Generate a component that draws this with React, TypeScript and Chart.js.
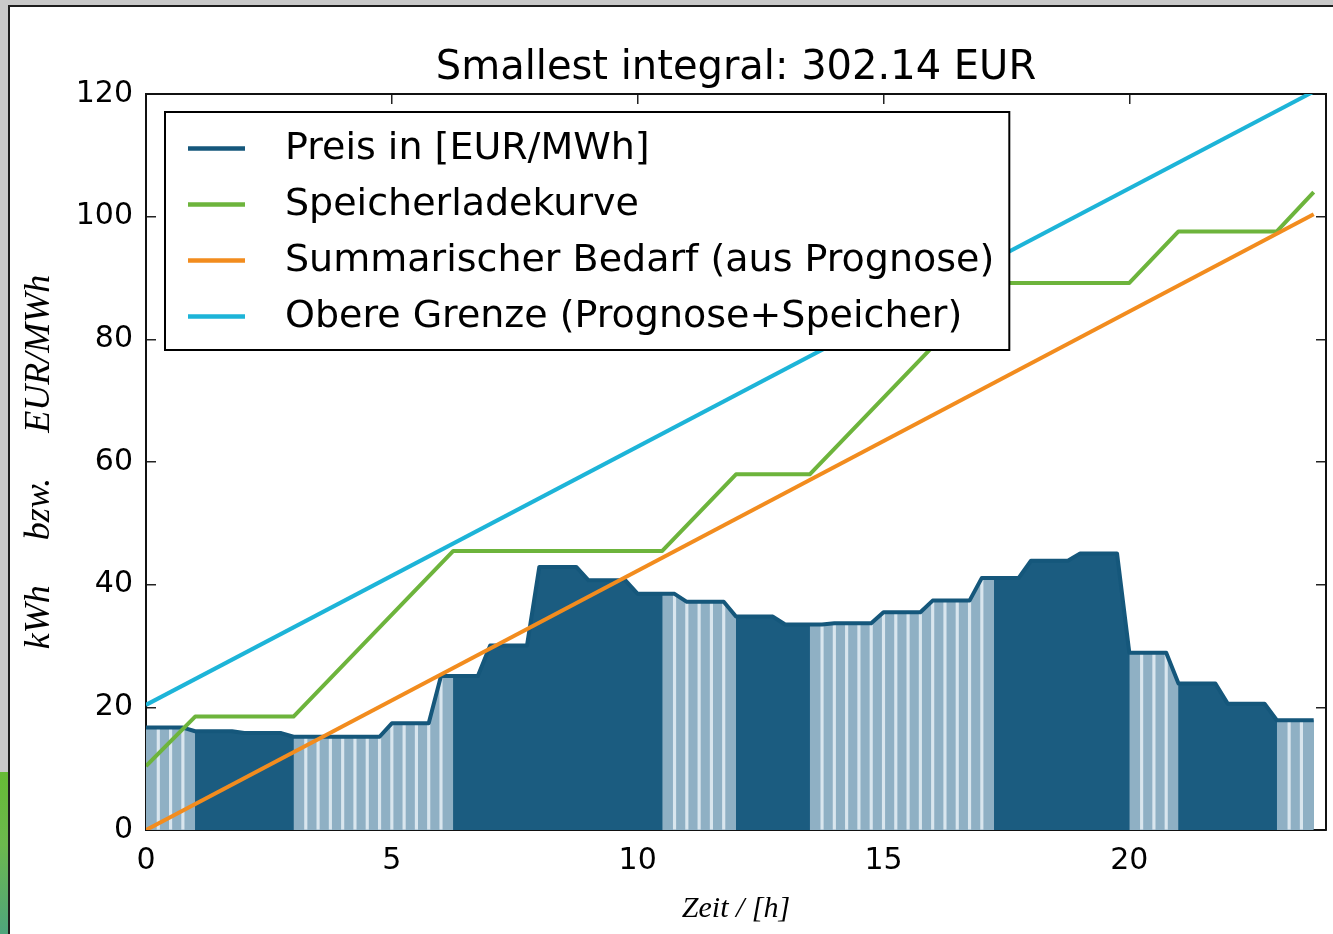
import React, { useEffect, useRef } from 'react';
import { Chart, registerables } from 'chart.js';

Chart.register(...registerables);

// ---------- data ----------
const TITLE = 'Smallest integral: 302.14 EUR';
const SERIES_NAMES = [
  'Preis in [EUR/MWh]',
  'Speicherladekurve',
  'Summarischer Bedarf (aus Prognose)',
  'Obere Grenze (Prognose+Speicher)',
];
const SLOT_HOURS = 0.25; // quarter-hour sampling of the price curve

// price, one value per quarter hour (hour 0 .. hour 23)
const priceValues: number[] = [
  16.7, 16.7, 16.7, 16.7,
  16.1, 16.1, 16.1, 16.1,
  15.8, 15.8, 15.8, 15.8,
  15.2, 15.2, 15.2, 15.2,
  15.2, 15.2, 15.2, 15.2,
  17.4, 17.4, 17.4, 17.4,
  25.1, 25.1, 25.1, 25.1,
  30.1, 30.1, 30.1, 30.1,
  42.9, 42.9, 42.9, 42.9,
  40.7, 40.7, 40.7, 40.7,
  38.5, 38.5, 38.5, 38.5,
  37.2, 37.2, 37.2, 37.2,
  34.8, 34.8, 34.8, 34.8,
  33.5, 33.5, 33.5, 33.5,
  33.7, 33.7, 33.7, 33.7,
  35.5, 35.5, 35.5, 35.5,
  37.4, 37.4, 37.4, 37.4,
  41.1, 41.1, 41.1, 41.1,
  43.9, 43.9, 43.9, 43.9,
  45.1, 45.1, 45.1, 45.1,
  28.9, 28.9, 28.9, 28.9,
  23.9, 23.9, 23.9, 23.9,
  20.6, 20.6, 20.6, 20.6,
  17.9, 17.9, 17.9, 17.9,
];

// periods in which the storage is charged (hatched area under the price)
const chargingRanges: [number, number][] = [
  [0, 1],
  [3, 6.25],
  [10.5, 12],
  [13.5, 17.25],
  [20, 21],
  [23, 23.75],
];

// storage charging curve (breakpoints)
const storageHours = [0, 1, 3, 6.25, 10.5, 12, 13.5, 17.25, 20, 21, 23, 23.75];
const storageValues = [10.4, 18.5, 18.5, 45.5, 45.5, 58, 58, 89.2, 89.2, 97.6, 97.6, 104.0];

// cumulative demand (forecast)
const demandHours = [0, 23.75];
const demandValues = [0, 100.4];

// upper limit (forecast + storage)
const upperHours = [0, 23.75];
const upperValues = [20.4, 120.4];

const xTickStep = 5;
const yTickStep = 20;

// ---------- styles ----------
const C_PRICE_FILL = '#1b5c80';
const C_PRICE_LINE = '#15577b';
const C_CHARGE_FILL = '#8fb0c4';
const C_STRIPE = '#d9e6ee';
const C_GREEN = '#6db43c';
const C_ORANGE = '#f28c1e';
const C_CYAN = '#1db4d8';

const legendFramePlugin = {
  id: 'legendFrame',
  afterDatasetsDraw(chart: any) {
    const lg: any = chart.legend;
    if (!lg || !lg.legendHitBoxes || !lg.legendHitBoxes.length) return;
    const hb = lg.legendHitBoxes;
    const left = hb[0].left + 1;
    const top = hb[0].top - 18;
    const last = hb[hb.length - 1];
    const bottom = last.top + last.height + 14;
    const right = Math.max(...hb.map((h: any) => h.left + h.width)) + 15;
    const ctx = chart.ctx;
    ctx.save();
    ctx.fillStyle = '#ffffff';
    ctx.fillRect(left, top, right - left, bottom - top);
    ctx.lineWidth = 2;
    ctx.strokeStyle = '#000000';
    ctx.strokeRect(left, top, right - left, bottom - top);
    ctx.restore();
    lg.draw();
  },
};

export default function App() {
  const ref = useRef<HTMLCanvasElement | null>(null);

  useEffect(() => {
    if (!ref.current) return;
    Chart.defaults.font.family = "'DejaVu Sans', sans-serif";
    Chart.defaults.color = '#000';

    const times = priceValues.map((_, i) => i * SLOT_HOURS);
    const inRange = (t: number) => chargingRanges.some(([a, b]) => t >= a - 1e-9 && t <= b + 1e-9);
    const strictlyInside = (t: number) => chargingRanges.some(([a, b]) => t > a + 1e-9 && t < b - 1e-9);

    const pricePts = times.map((t, i) => ({ x: t, y: priceValues[i] }));
    const chargePts = times.map((t, i) => ({ x: t, y: inRange(t) ? priceValues[i] : null }));
    const stripePts = times
      .map((t, i) => ({ x: t, y: priceValues[i] }))
      .filter((p) => strictlyInside(p.x));
    const storagePts = storageHours.map((x, i) => ({ x, y: storageValues[i] }));
    const demandPts = demandHours.map((x, i) => ({ x, y: demandValues[i] }));
    const upperPts = upperHours.map((x, i) => ({ x, y: upperValues[i] }));

    const lineBase = {
      type: 'line' as const,
      pointRadius: 0,
      tension: 0,
      borderWidth: 4,
      fill: false,
      clip: 0,
      xAxisID: 'x',
      yAxisID: 'y',
      borderJoinStyle: 'round' as const,
    };

    const grid = {
      display: true,
      drawOnChartArea: false,
      drawTicks: true,
      tickLength: -10,
      color: '#222',
      lineWidth: 1.5,
    };
    const border = { display: true, color: '#111', width: 2 };

    const chart = new Chart(ref.current, {
      type: 'line',
      data: {
        datasets: [
          { ...lineBase, label: SERIES_NAMES[0], data: pricePts, borderColor: C_PRICE_LINE, order: 3 },
          { ...lineBase, label: SERIES_NAMES[1], data: storagePts, borderColor: C_GREEN, order: 2 },
          { ...lineBase, label: SERIES_NAMES[2], data: demandPts, borderColor: C_ORANGE, order: 1 },
          { ...lineBase, label: SERIES_NAMES[3], data: upperPts, borderColor: C_CYAN, order: 0 },
          {
            type: 'bar',
            label: 'stripes',
            data: stripePts,
            backgroundColor: C_STRIPE,
            borderWidth: 0,
            barThickness: 2.5,
            xAxisID: 'x',
            yAxisID: 'y',
            order: 4,
          } as any,
          {
            ...lineBase,
            label: 'charging',
            data: chargePts,
            borderWidth: 0,
            borderColor: 'rgba(0,0,0,0)',
            backgroundColor: C_CHARGE_FILL,
            fill: 'origin',
            spanGaps: false,
            order: 5,
          } as any,
          {
            ...lineBase,
            label: 'price-area',
            data: pricePts,
            borderWidth: 0,
            borderColor: 'rgba(0,0,0,0)',
            backgroundColor: C_PRICE_FILL,
            fill: 'origin',
            order: 6,
          } as any,
        ],
      },
      options: {
        animation: false,
        responsive: false,
        devicePixelRatio: 1,
        events: [],
        layout: { padding: { left: 0, right: 7, top: 0, bottom: 0 } },
        plugins: {
          title: {
            display: true,
            text: TITLE,
            fullSize: false,
            color: '#000',
            font: { family: "'DejaVu Sans', sans-serif", size: 40, weight: 'normal', lineHeight: 1.2 },
            padding: { top: 45, bottom: 1 },
          },
          legend: {
            display: true,
            position: 'chartArea',
            align: 'start',
            // the legend box starts at the canvas top; the empty title reserves the space above the first row
            title: { display: true, text: '', font: { size: 112, lineHeight: 1 }, padding: 0 },
            labels: {
              boxWidth: 102,
              boxHeight: 1,
              padding: 18,
              color: '#000',
              font: { family: "'DejaVu Sans', sans-serif", size: 38 },
              generateLabels: (ch: any) =>
                ch.data.datasets.slice(0, 4).map((ds: any, i: number) => ({
                  text: ds.label,
                  fillStyle: 'rgba(0,0,0,0)',
                  strokeStyle: ds.borderColor,
                  lineWidth: 4.5,
                  lineDash: [57, 2000],
                  lineDashOffset: -24,
                  lineCap: 'butt',
                  lineJoin: 'miter',
                  hidden: false,
                  datasetIndex: i,
                  fontColor: '#000',
                })),
            },
          },
          tooltip: { enabled: false },
        },
        scales: {
          x: {
            type: 'linear',
            position: 'bottom',
            min: 0,
            max: 24,
            offset: false,
            afterFit: (s: any) => {
              s.height = 104;
            },
            ticks: {
              stepSize: xTickStep,
              includeBounds: false,
              color: '#000',
              font: { size: 30 },
              padding: 23,
              maxRotation: 0,
              autoSkip: false,
            },
            grid,
            border,
            title: {
              display: true,
              text: 'Zeit / [h]',
              color: '#000',
              font: { family: "'Liberation Serif', serif", style: 'italic', size: 30 },
              padding: { top: 0, bottom: 7 },
            },
          },
          y: {
            type: 'linear',
            position: 'left',
            min: 0,
            max: 120,
            afterFit: (s: any) => {
              s.width = 146;
            },
            ticks: { stepSize: yTickStep, color: '#000', font: { size: 30 }, padding: 23 },
            grid,
            border,
            title: {
              display: true,
              text: 'kWh     bzw.     EUR/MWh',
              color: '#000',
              font: { family: "'Liberation Serif', serif", style: 'italic', size: 36 },
              padding: { top: 18, bottom: 0 },
            },
          },
          x2: {
            type: 'linear',
            position: 'top',
            min: 0,
            max: 24,
            afterFit: (s: any) => {
              s.height = 0;
            },
            ticks: { display: false, stepSize: xTickStep, includeBounds: false },
            grid,
            border,
          },
          y2: {
            type: 'linear',
            position: 'right',
            min: 0,
            max: 120,
            afterFit: (s: any) => {
              s.width = 0;
            },
            ticks: { display: false, stepSize: yTickStep },
            grid,
            border,
          },
        },
      } as any,
      plugins: [legendFramePlugin],
    });

    return () => chart.destroy();
  }, []);

  return (
    <div
      style={{
        position: 'fixed',
        left: 0,
        top: 0,
        width: 1333,
        height: 934,
        background: '#c9c9c9',
        overflow: 'hidden',
      }}
    >
      <div
        style={{
          position: 'absolute',
          left: 0,
          top: 772,
          width: 8,
          height: 162,
          background: 'linear-gradient(#66bb35, #6cb84e 45%, #4ea57c)',
        }}
      />
      <div
        style={{
          position: 'absolute',
          left: 8,
          top: 5,
          right: 0,
          bottom: 0,
          background: '#ffffff',
          borderLeft: '2px solid #1e1e1e',
          borderTop: '2px solid #1e1e1e',
        }}
      />
      <canvas
        ref={ref}
        width={1333}
        height={934}
        style={{ position: 'absolute', left: 0, top: 0, width: 1333, height: 934 }}
      />
    </div>
  );
}
